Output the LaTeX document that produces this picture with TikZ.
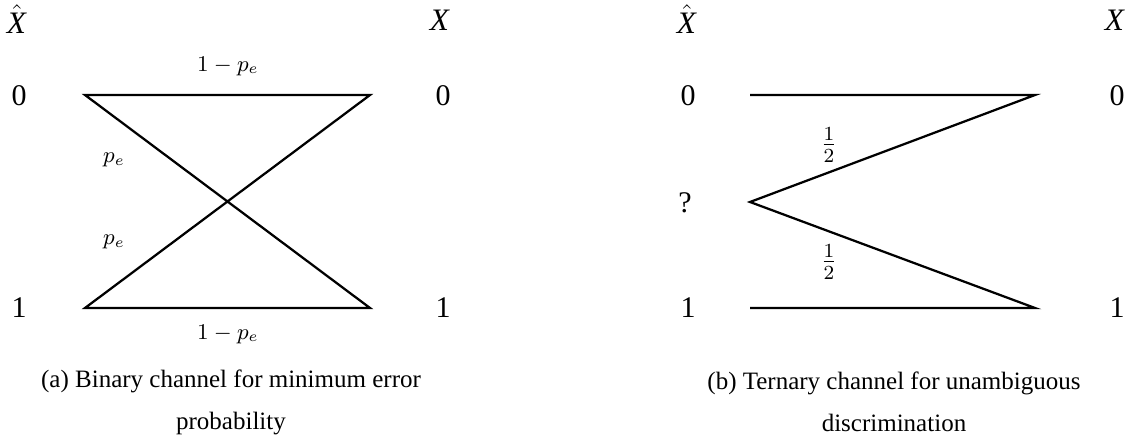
\documentclass[tikz,border=0pt]{standalone}
\usepackage{amsmath}
\usepackage{fontspec}
\setmainfont{Liberation Serif}
\usetikzlibrary{positioning}
\tikzset{
  symbolnode/.style={font=\fontsize{12}{14}\selectfont,inner sep=0pt},
  varnode/.style={font=\fontsize{12.5}{14}\selectfont,inner sep=0pt},
  problabel/.style={font=\fontsize{9}{11}\selectfont,inner sep=0pt},
  fraclabel/.style={font=\fontsize{12}{14}\selectfont,inner sep=0pt},
  channelline/.style={line width=0.9pt,line join=miter},
  captionnode/.style={align=center,inner sep=0pt,
    font=\fontsize{10}{16.8}\selectfont}
}

\begin{document}
\begin{tikzpicture}[x=0.4pt,y=-0.4pt]
  \useasboundingbox (0,0) rectangle (1126,437);
  % (a) binary channel
  \node[varnode] (xhatA) at (17,19) {$\hat{\mbox{\textit{X}}}$};
  \node[varnode] (xA) at (440,20) {\textit{X}};
  \node[symbolnode] (inA0) at (19,96) {0};
  \node[symbolnode] (inA1) at (19,308) {1};
  \node[symbolnode] (outA0) at (443,96) {0};
  \node[symbolnode] (outA1) at (443,308) {1};
  \coordinate (lA0) at (85,95);
  \coordinate (rA0) at (370,95);
  \coordinate (lA1) at (85,308);
  \coordinate (rA1) at (370,308);
  \draw[channelline] (lA0) -- (rA0) -- (lA1) -- (rA1) -- cycle;
  \node[problabel] (pA00) at (228,66) {$1-p_e$};
  \node[problabel] (pA01) at (114,160) {$p_e$};
  \node[problabel] (pA10) at (114,242) {$p_e$};
  \node[problabel] (pA11) at (228,334) {$1-p_e$};
  \node[captionnode] (capA) at (231,402)
    {(a) Binary channel for minimum error\\probability};
  % (b) ternary channel
  \node[varnode] (xhatB) at (687,19) {$\hat{\mbox{\textit{X}}}$};
  \node[varnode] (xB) at (1115,20) {\textit{X}};
  \node[symbolnode] (inB0) at (688,96) {0};
  \node[symbolnode] (inBq) at (685,203) {?};
  \node[symbolnode] (inB1) at (688,308) {1};
  \node[symbolnode] (outB0) at (1117,96) {0};
  \node[symbolnode] (outB1) at (1117,308) {1};
  \coordinate (lB0) at (750,95);
  \coordinate (lBq) at (750,202);
  \coordinate (lB1) at (750,308);
  \coordinate (rB0) at (1035,95);
  \coordinate (rB1) at (1035,308);
  \draw[channelline] (lB0) -- (rB0) -- (lBq) -- (rB1) -- (lB1);
  \node[fraclabel] (pBq0) at (829,145) {$\frac{1}{2}$};
  \node[fraclabel] (pBq1) at (829,262) {$\frac{1}{2}$};
  \node[captionnode] (capB) at (894,402)
    {(b) Ternary channel for unambiguous\\discrimination};
\end{tikzpicture}
\end{document}
